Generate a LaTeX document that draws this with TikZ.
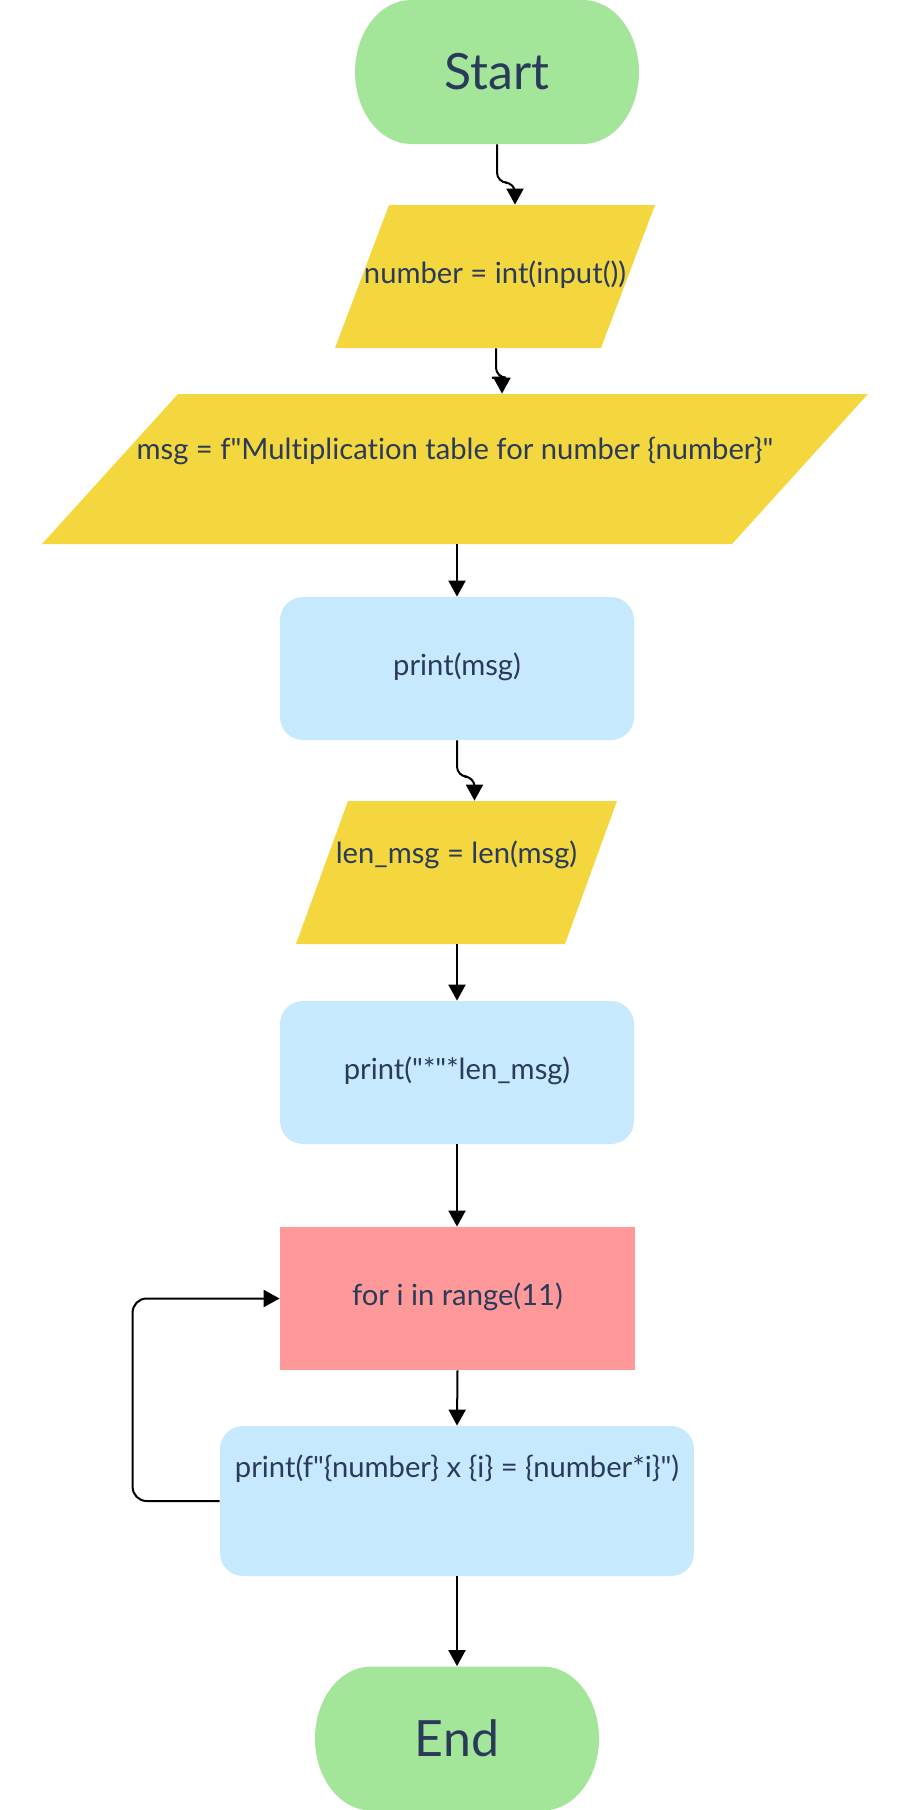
\documentclass[tikz,border=0pt]{standalone}
\usepackage{fontspec}
\setmainfont{Lato}[Ligatures={TeXOff,NoCommon}]
\usetikzlibrary{arrows.meta,calc}

\definecolor{termfill}{HTML}{A3E699}
\definecolor{iofill}{HTML}{F4D73E}
\definecolor{procfill}{HTML}{C7E9FD}
\definecolor{loopfill}{HTML}{FF9999}
\definecolor{inkblue}{HTML}{2A3B5A}

\tikzset{
  every node/.style={text=inkblue, inner sep=0pt, align=center},
  body/.style={font=\fontsize{14.6}{17}\selectfont, text height=10pt, text depth=3.5pt},
  terminal/.style={rectangle, minimum width=142pt, minimum height=72pt,
    font=\fontsize{25}{30}\selectfont,
    path picture={\fill[termfill]
      ([xshift=28pt]path picture bounding box.north west) --
      ([xshift=-28pt]path picture bounding box.north east)
      arc[start angle=90,end angle=-90,x radius=28pt,y radius=36pt] --
      ([xshift=28pt]path picture bounding box.south west)
      arc[start angle=270,end angle=90,x radius=28pt,y radius=36pt] -- cycle;}},
  iobox/.style={rectangle, body,
    path picture={\fill[iofill]
      ([xshift=#1]path picture bounding box.north west) --
      (path picture bounding box.north east) --
      ([xshift=-#1]path picture bounding box.south east) --
      (path picture bounding box.south west) -- cycle;}},
  procbox/.style={rectangle, rounded corners=11.5pt, fill=procfill, body},
  loopbox/.style={rectangle, fill=loopfill, body},
  arr/.style={line width=1pt, -{Triangle[width=8.5pt,length=8pt]}, rounded corners=5pt},
}

\begin{document}
\begin{tikzpicture}[x=0.5pt, y=-0.5pt]
  \useasboundingbox (0,0) rectangle (912,1810);

  % flowchart blocks
  \node[terminal] (start) at (497,72) {Start};
  \node[iobox=27pt, minimum width=160pt, minimum height=71.5pt] (readnum) at (495,276.5)
    {number = int(input())};
  \node[iobox=68pt, minimum width=413pt, minimum height=75pt, text depth=20pt] (setmsg) at (455,469)
    {msg = f"Multiplication table for number \{number\}"};
  \node[procbox, minimum width=177pt, minimum height=71.5pt] (printmsg) at (457,668.5)
    {print(msg)};
  \node[iobox=26pt, minimum width=160.5pt, minimum height=71.5pt, text depth=19.5pt] (lenmsg) at (456.5,872.5)
    {len\_msg = len(msg)};
  \node[procbox, minimum width=177pt, minimum height=71.5pt] (printstars) at (457,1072.5)
    {print("*"*len\_msg)};
  \node[loopbox, minimum width=177.5pt, minimum height=71.5pt] (forloop) at (457.5,1298.5)
    {for i in range(11)};
  \node[procbox, minimum width=237pt, minimum height=75pt, text depth=34pt] (printrow) at (457,1501)
    {print(f"\{number\} x \{i\} = \{number*i\}")};
  \node[terminal] (stop) at (457,1738.5) {End};

  % connectors
  \draw[arr] (start.south) |- ($(readnum.north)+(20,-22)$) -- ([xshift=10pt]readnum.north);
  \draw[arr] ([xshift=0.5pt]readnum.south) |- ($(setmsg.north)+(47,-16)$) -- ([xshift=23.5pt]setmsg.north);
  \draw[arr] (printmsg.north |- setmsg.south) -- (printmsg.north);
  \draw[arr] (printmsg.south) |- ($(lenmsg.north)+(18,-24)$) -- ([xshift=9pt]lenmsg.north);
  \draw[arr] (printstars.north |- lenmsg.south) -- (printstars.north);
  \draw[arr] (printstars.south) -- (printstars.south |- forloop.north);
  \draw[arr] (forloop.south) -- (printrow.north);
  \draw[arr] (printrow.south) -- (stop.north);
  \draw[arr, rounded corners=7pt] (printrow.west) -- ++(-87,0) |- (forloop.west);
\end{tikzpicture}
\end{document}
